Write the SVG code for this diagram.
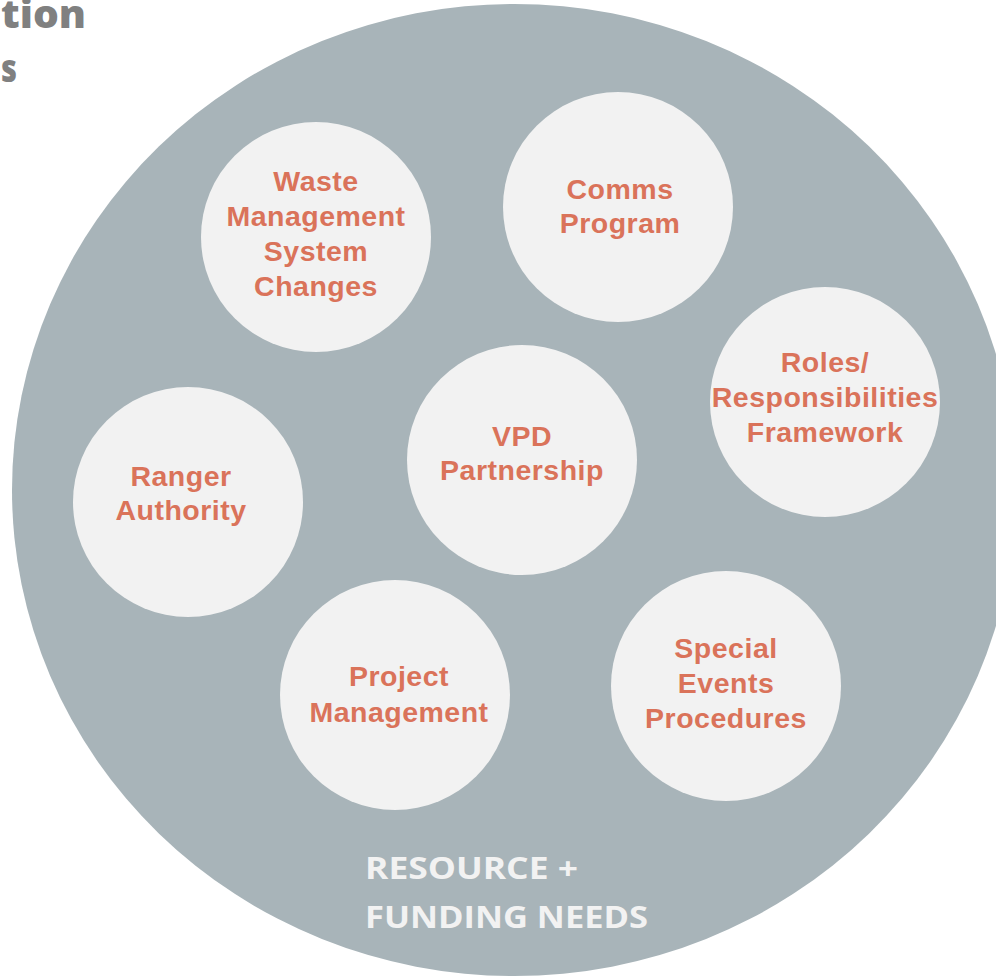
<svg xmlns="http://www.w3.org/2000/svg" width="996" height="980" viewBox="0 0 996 980">
<style>
.node{fill:#F2F2F2}
.lbl{font-family:"Liberation Sans",Arial,sans-serif;font-weight:bold;font-size:28.5px;fill:#DA735A;text-anchor:middle;letter-spacing:0.5px}
.big{font-family:"Open Sans","Liberation Sans",sans-serif;font-weight:bold;font-size:30px;fill:#F2F2F2}
.title{font-family:"Open Sans","Liberation Sans",sans-serif;font-weight:800;font-size:38px;fill:#808080}
</style>
<rect width="996" height="980" fill="#FFFFFF"/>
<g id="title">
<text class="title" x="1" y="28" textLength="85" lengthAdjust="spacingAndGlyphs">tion</text>
<text class="title" x="1" y="82" textLength="16" lengthAdjust="spacingAndGlyphs">s</text>
</g>
<g id="resource-funding">
<ellipse cx="514" cy="490" rx="502" ry="486" fill="#A8B4B9"/>
<text class="big" x="365" y="879" textLength="213" lengthAdjust="spacingAndGlyphs">RESOURCE +</text>
<text class="big" x="365" y="928" textLength="283" lengthAdjust="spacingAndGlyphs">FUNDING NEEDS</text>
</g>
<g id="connectors"></g>
<g id="waste">
<circle class="node" cx="316" cy="237" r="115"/>
<text class="lbl" x="316" y="191">Waste</text>
<text class="lbl" x="316" y="226">Management</text>
<text class="lbl" x="316" y="261">System</text>
<text class="lbl" x="316" y="296">Changes</text>
</g>
<g id="comms">
<circle class="node" cx="618" cy="207" r="115"/>
<text class="lbl" x="620" y="199">Comms</text>
<text class="lbl" x="620" y="233">Program</text>
</g>
<g id="roles">
<circle class="node" cx="825" cy="402" r="115"/>
<text class="lbl" x="825" y="372">Roles/</text>
<text class="lbl" x="825" y="407">Responsibilities</text>
<text class="lbl" x="825" y="442">Framework</text>
</g>
<g id="vpd">
<circle class="node" cx="522" cy="460" r="115"/>
<text class="lbl" x="522" y="446">VPD</text>
<text class="lbl" x="522" y="480">Partnership</text>
</g>
<g id="ranger">
<circle class="node" cx="188" cy="502" r="115"/>
<text class="lbl" x="181" y="486">Ranger</text>
<text class="lbl" x="181" y="520">Authority</text>
</g>
<g id="project">
<circle class="node" cx="395" cy="695" r="115"/>
<text class="lbl" x="399" y="686">Project</text>
<text class="lbl" x="399" y="722">Management</text>
</g>
<g id="special">
<circle class="node" cx="726" cy="686" r="115"/>
<text class="lbl" x="726" y="658">Special</text>
<text class="lbl" x="726" y="693">Events</text>
<text class="lbl" x="726" y="728">Procedures</text>
</g>
</svg>
